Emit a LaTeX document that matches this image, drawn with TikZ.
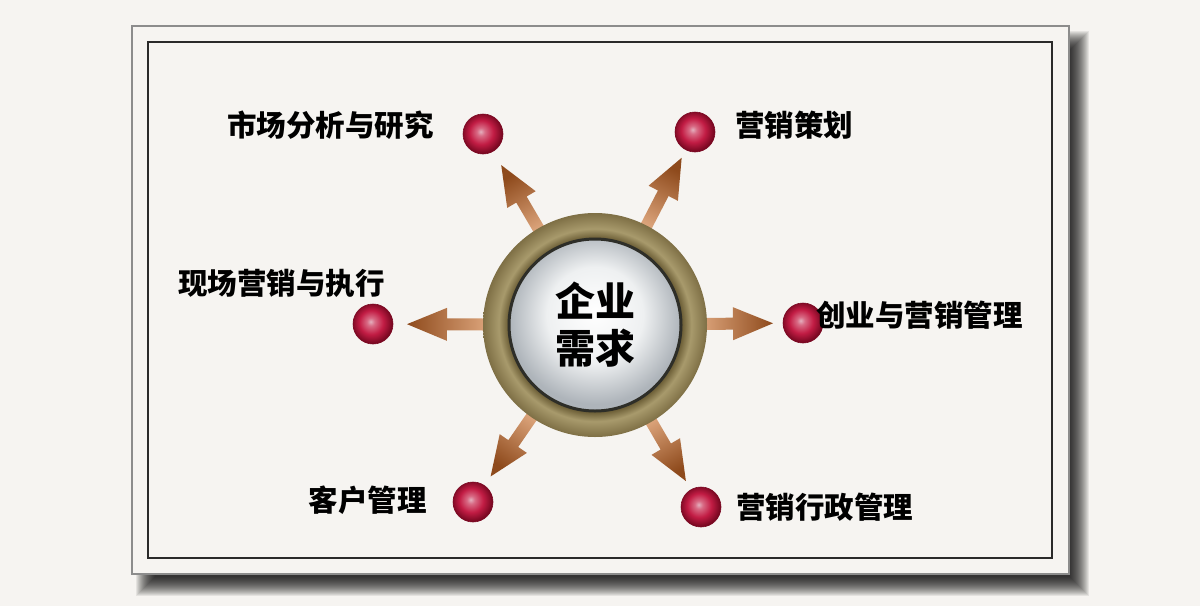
\documentclass[tikz,border=0pt]{standalone}
\usepackage{fontspec}
\setmainfont{Noto Sans CJK SC}
\usetikzlibrary{calc}
\definecolor{bg}{HTML}{F6F4F1}
\definecolor{framegray}{HTML}{8C8C8C}
\definecolor{innerline}{HTML}{2A2A2A}
\definecolor{ballcenter}{HTML}{E4B0BE}
\definecolor{ballsoft}{HTML}{D86A84}
\definecolor{ballmid}{HTML}{C21C44}
\definecolor{balledge}{HTML}{7A0822}
\definecolor{arrtail}{HTML}{EDB890}
\definecolor{arrmid}{HTML}{CF8446}
\definecolor{arrtip}{HTML}{8E4A1C}
\definecolor{ringA}{HTML}{9A8B5E}
\definecolor{ringDark}{HTML}{6E6038}
\definecolor{ringLight}{HTML}{A89A6C}
\definecolor{ringEdge}{HTML}{7E6F45}
\definecolor{ringline}{HTML}{2E2E28}
\definecolor{discW}{HTML}{FFFFFF}
\definecolor{discM}{HTML}{EEF0F1}
\definecolor{discE}{HTML}{AEB4BA}
\pgfdeclareradialshading{ballshade}{\pgfpoint{-3bp}{3bp}}{color(0bp)=(ballcenter); color(5bp)=(ballsoft); color(15bp)=(ballmid); color(25bp)=(balledge); color(50bp)=(balledge)}
\pgfdeclareradialshading{ringshade}{\pgfpoint{0bp}{0bp}}{color(0bp)=(ringA); color(19.5bp)=(ringDark); color(21.5bp)=(ringLight); color(25bp)=(ringEdge); color(50bp)=(ringEdge)}
\pgfdeclareradialshading{discshade}{\pgfpoint{0bp}{4bp}}{color(0bp)=(discW); color(14bp)=(discM); color(25bp)=(discE); color(50bp)=(discE)}
\pgfdeclarelayer{back}
\pgfsetlayers{back,main}
\tikzset{
  ball/.style={circle, minimum size=40pt, inner sep=0pt, shade, shading=ballshade, draw=balledge, line width=0.6pt},
  lab/.style={inner sep=0pt, font=\fontsize{29.5}{31}\selectfont\bfseries, text=black},
  arrowbody/.style={top color=arrtip, middle color=arrmid, bottom color=arrtail}
}
\newcommand\bigarrow[3]{%
  \coordinate (S) at ($(core)!90pt!(#1)$);
  \coordinate (T) at ($(#1)!#2pt!(core)$);
  \coordinate (H) at ($(T)!40pt!(core)$);
  \shade[arrowbody, shading angle=#3]
    ($(S)!6pt!90:(T)$) -- ($(H)!6pt!-90:(S)$) -- ($(H)!16.5pt!-90:(S)$) -- (T)
    -- ($(H)!16.5pt!90:(S)$) -- ($(H)!6pt!90:(S)$) -- ($(S)!6pt!-90:(T)$) -- cycle;
}
\begin{document}
\begin{tikzpicture}[x=1pt,y=-1pt]
\useasboundingbox (0,0) rectangle (1200,606);
\begin{pgfonlayer}{back}
\fill[bg] (0,0) rectangle (1200,606);
\foreach \k in {0,...,19} {
  \fill[black, opacity=0.07] (136+\k,31+\k) rectangle (1089-\k,596-\k);
}
\draw[framegray, line width=1.5pt, fill=bg] (132,26) rectangle (1069,574);
\draw[innerline, line width=1.6pt] (148,42) rectangle (1052,558);
\end{pgfonlayer}

\node[circle, minimum size=224pt, inner sep=0pt, shade, shading=ringshade] (core) at (595,325) {};
\node[circle, minimum size=172pt, inner sep=0pt, shade, shading=discshade, draw=ringline, line width=3pt,
      align=center, font=\fontsize{40}{47}\selectfont\bfseries] (disc) at (core) {企业\\需求};

\node[ball] (b1) at (483,134) {};
\node[ball] (b2) at (695,132) {};
\node[ball] (b3) at (373,324) {};
\node[ball] (b4) at (803,323) {};
\node[ball] (b5) at (473,502) {};
\node[ball] (b6) at (701,507) {};

\node[lab, anchor=east] (l1) at (434,125) {市场分析与研究};
\node[lab, anchor=west] (l2) at (735,125) {营销策划};
\node[lab, anchor=east] (l3) at (385,283) {现场营销与执行};
\node[lab, anchor=west] (l4) at (816,315) {创业与营销管理};
\node[lab, anchor=east] (l5) at (427,500) {客户管理};
\node[lab, anchor=west] (l6) at (736,507) {营销行政管理};

\begin{pgfonlayer}{back}
\bigarrow{b1}{36}{30.4}
\bigarrow{b2}{29}{-27.4}
\bigarrow{b3}{34}{90}
\bigarrow{b4}{30}{-90}
\bigarrow{b5}{31}{145.4}
\bigarrow{b6}{30}{210.2}
\end{pgfonlayer}
\end{tikzpicture}
\end{document}
